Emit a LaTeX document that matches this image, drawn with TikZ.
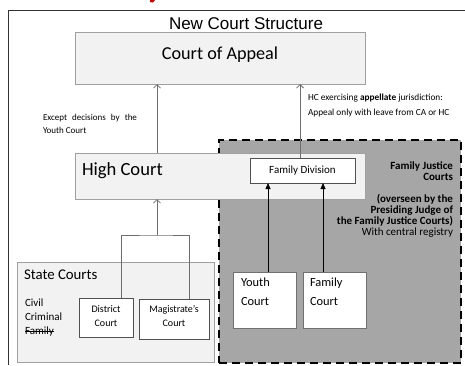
\documentclass[tikz,border=0pt]{standalone}
\usepackage{fontspec}
\setmainfont{Carlito}
\newfontfamily\arialfont{Liberation Sans}
\usetikzlibrary{arrows.meta}

\definecolor{lightfill}{HTML}{F2F2F2}
\definecolor{boxline}{HTML}{A0A0A0}
\definecolor{darkline}{HTML}{505050}
\definecolor{linkgray}{HTML}{6E6E6E}
\definecolor{zonefill}{HTML}{A6A6A6}

\newcommand\strikeword[1]{\setbox0\hbox{#1}\rlap{\rule[0.3em]{\wd0}{0.07em}}\box0}

\begin{document}
\begin{tikzpicture}[x=1pt, y=-1pt,
	lightbox/.style={draw=boxline, fill=lightfill, line width=0.8pt, inner sep=0pt, outer sep=0pt},
	whitebox/.style={draw=darkline, fill=white, line width=0.8pt, inner sep=0pt, outer sep=0pt},
	zone/.style={draw=black, fill=zonefill, line width=2pt, dash pattern=on 8pt off 5pt, inner sep=0pt, outer sep=0pt},
	txt/.style={inner sep=0pt, outer sep=0pt},
	link/.style={draw=linkgray, line width=0.8pt},
	up/.style={link, -{Straight Barb[length=3.5pt,width=7pt]}},
	solidup/.style={draw=black, line width=0.8pt, -{Triangle[length=6pt,width=5pt]}}]

			\useasboundingbox (0,0) rectangle (465,365);
			\fill[red!75!black] (150,0) -- (155,0) -- (153,2.5) -- (150,2) -- cycle;
			\draw[line width=0.8pt, black!80] (8,365) -- (8,10) -- (465,10);

			\node[txt, anchor=base, font=\arialfont\fontsize{17}{20}\selectfont] (title) at (246,29) {New Court Structure};

			% family justice courts zone
			\node[zone, minimum width=242, minimum height=223] (fjc) at (340,251.5) {};
			\node[txt, anchor=north east, align=right, font=\fontsize{11}{11}\selectfont\bfseries] (fjctxt) at (453,161.5)
				{Family Justice\\Courts\\[11pt](overseen by the\\Presiding Judge of\\the Family Justice Courts)\\\mdseries With central registry};

			% courts
			\node[lightbox, minimum width=290, minimum height=52] (coa) at (220,58) {};
			\node[txt, anchor=base, font=\fontsize{18.2}{22}\selectfont] (coatxt) at (220,59.5) {Court of Appeal};

			\node[lightbox, minimum width=290, minimum height=46] (hc) at (220,176) {};
			\node[txt, anchor=base west, font=\fontsize{18.6}{22}\selectfont] (hctxt) at (82,175) {High Court};

			\node[whitebox, minimum width=105, minimum height=25] (fd) at (302.5,170.5) {};
			\node[txt, anchor=base, font=\fontsize{11}{13}\selectfont] (fdtxt) at (302.5,173.5) {Family Division};

			\node[lightbox, minimum width=197, minimum height=100] (sc) at (115.5,312) {};
			\node[txt, anchor=base west, font=\fontsize{14.8}{18}\selectfont] (sctxt) at (24,279.5) {State Courts};
			\node[txt, anchor=north west, align=left, font=\fontsize{11}{14.3}\selectfont] (sclist) at (25,298.5) {Civil\\Criminal\\\strikeword{Family}};

			\node[whitebox, minimum width=54, minimum height=39] (dc) at (106,317.5) {};
			\node[txt, anchor=north, align=center, font=\fontsize{10}{14}\selectfont] (dctxt) at (106,305.2) {District\\Court};
			\node[whitebox, minimum width=70, minimum height=40] (mc) at (174,319) {};
			\node[txt, anchor=north, align=center, font=\fontsize{10}{14}\selectfont] (mctxt) at (174,305.2) {Magistrate’s\\Court};

			\node[whitebox, draw=boxline!70!black, minimum width=63, minimum height=56] (yc) at (264.5,300) {};
			\node[txt, anchor=north west, align=left, font=\fontsize{12.4}{18.7}\selectfont] (yctxt) at (241,278) {Youth\\Court};
			\node[whitebox, draw=boxline!70!black, minimum width=63, minimum height=56] (fc) at (334.5,300) {};
			\node[txt, anchor=north west, align=left, font=\fontsize{12.4}{18.7}\selectfont] (fctxt) at (310,278) {Family\\Court};

			% notes
			\node[txt, anchor=north west, text width=94pt, align=justify, font=\fontsize{9}{13.7}\selectfont] (except) at (43,114) {Except decisions by the Youth Court};
			\node[txt, anchor=north west, align=left, font=\fontsize{9.3}{15}\selectfont] (hcnote) at (308,93.5) {HC exercising \textbf{appellate} jurisdiction:\\Appeal only with leave from CA or HC};

			% connectors
			\coordinate (join) at (157,235);
			\draw[link] ([xshift=15pt]dc.north) |- (join) -| ([xshift=15pt]mc.north);
			\draw[up] (join) -- (join |- hc.south);
			\draw[up] (join |- hc.north) -- (join |- coa.south);
			\draw[up] ([xshift=-2.5pt]fd.north) -- ([xshift=-2.5pt]fd.north |- coa.south);
			\draw[solidup] ([xshift=3.5pt]yc.north) -- ([xshift=3.5pt]yc.north |- fd.south);
			\draw[solidup] ([xshift=-11.5pt]fc.north) -- ([xshift=-11.5pt]fc.north |- fd.south);
\end{tikzpicture}
\end{document}
